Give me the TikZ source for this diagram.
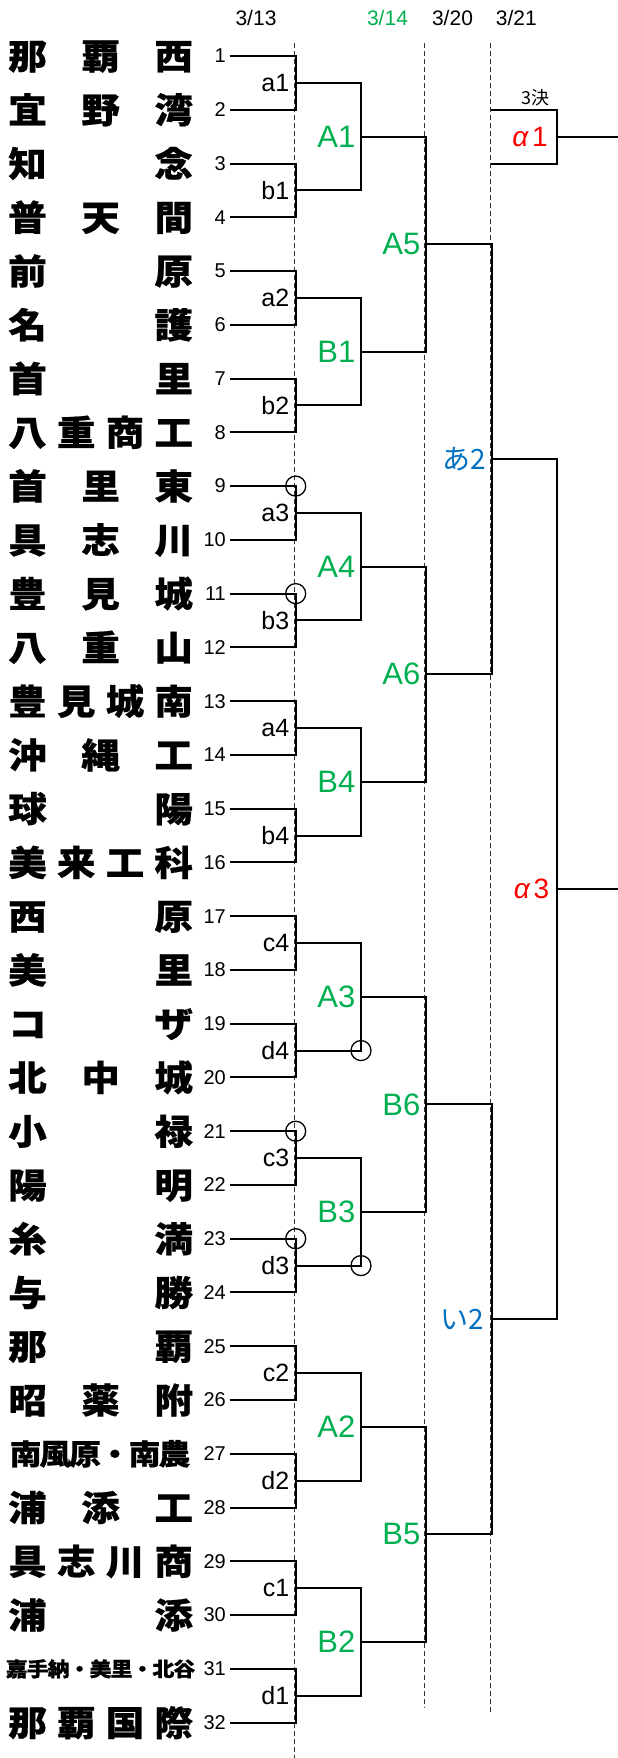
\documentclass[tikz,border=0pt]{standalone}
\usepackage{fontspec}
\setmainfont{Liberation Sans}
\newfontfamily\jpfont{Noto Sans CJK JP}[FakeStretch=1.1,BoldFeatures={FakeBold=0.6}]
\newfontfamily\jpplain{Noto Sans CJK JP}
\usetikzlibrary{calc}

\definecolor{roundgreen}{RGB}{0,176,80}
\definecolor{kanablue}{RGB}{0,112,192}
\definecolor{alphared}{RGB}{255,0,0}

% row of team i (in px, downwards)
\def\ty#1{56+(#1-1)*53.76}

% team name spread over the name column: row, size, first x, last x, chars
\newcommand\teamname[5]{%
  \foreach \c [count=\n] in {#5} {\xdef\teamlen{\n}}%
  \foreach \c [count=\j from 0] in {#5}
    \node[namechar,font=\jpfont\bfseries\fontsize{#2}{#2}\selectfont]
      (name#1-\j) at ({#3+\j*(#4-#3)/(\teamlen-1)},{\ty{#1}+0.38*#2}) {\c};%
}
\newcommand\alphatext[1]{{\itshape α}\kern4pt#1}

\begin{document}
\begin{tikzpicture}[x=1pt,y=-1pt,
  bracket/.style={line width=2pt},
  dayline/.style={line width=1pt,dash pattern=on 5pt off 3pt,black!80},
  teamno/.style={anchor=east,inner sep=0pt,font=\fontsize{20}{20}\selectfont},
  firstlab/.style={anchor=east,inner sep=0pt,font=\fontsize{25}{25}\selectfont},
  secondlab/.style={anchor=east,inner sep=0pt,text=roundgreen,font=\fontsize{31}{31}\selectfont},
  kanalab/.style={anchor=east,inner sep=0pt,text=kanablue,font=\jpplain\fontsize{28}{28}\selectfont},
  alphalab/.style={anchor=east,inner sep=0pt,text=alphared,font=\fontsize{28}{28}\selectfont},
  daylab/.style={inner sep=0pt,font=\fontsize{21}{21}\selectfont},
  namechar/.style={anchor=base,inner sep=0pt},
  hitmark/.style={circle,draw,line width=1.3pt,minimum size=20pt,inner sep=0pt}]

  \useasboundingbox (0,0) rectangle (618,1758);

  %%%%% days %%%%%
  \node[daylab] (d313) at (256,18.3) {3/13};
  \node[daylab,text=roundgreen] (d314) at (387.5,18.3) {3/14};
  \node[daylab] (d320) at (452.5,18.3) {3/20};
  \node[daylab] (d321) at (516.4,18.3) {3/21};

  \draw[dayline] (294,42.7) -- (294,1758);
  \draw[dayline] (424,42.7) -- (424,1708);
  \draw[dayline] (490,42.7) -- (490,1712);

  %%%%% teams %%%%%
  \teamname{1}{35}{27.5}{173.7}{那,覇,西}
  \teamname{2}{35}{27.5}{173.7}{宜,野,湾}
  \teamname{3}{35}{27.5}{173.7}{知,念}
  \teamname{4}{35}{27.5}{173.7}{普,天,間}
  \teamname{5}{35}{27.5}{173.7}{前,原}
  \teamname{6}{35}{27.5}{173.7}{名,護}
  \teamname{7}{35}{27.5}{173.7}{首,里}
  \teamname{8}{35}{27.5}{173.7}{八,重,商,工}
  \teamname{9}{35}{27.5}{173.7}{首,里,東}
  \teamname{10}{35}{27.5}{173.7}{具,志,川}
  \teamname{11}{35}{27.5}{173.7}{豊,見,城}
  \teamname{12}{35}{27.5}{173.7}{八,重,山}
  \teamname{13}{35}{27.5}{173.7}{豊,見,城,南}
  \teamname{14}{35}{27.5}{173.7}{沖,縄,工}
  \teamname{15}{35}{27.5}{173.7}{球,陽}
  \teamname{16}{35}{27.5}{173.7}{美,来,工,科}
  \teamname{17}{35}{27.5}{173.7}{西,原}
  \teamname{18}{35}{27.5}{173.7}{美,里}
  \teamname{19}{35}{27.5}{173.7}{コ,ザ}
  \teamname{20}{35}{27.5}{173.7}{北,中,城}
  \teamname{21}{35}{27.5}{173.7}{小,禄}
  \teamname{22}{35}{27.5}{173.7}{陽,明}
  \teamname{23}{35}{27.5}{173.7}{糸,満}
  \teamname{24}{35}{27.5}{173.7}{与,勝}
  \teamname{25}{35}{27.5}{173.7}{那,覇}
  \teamname{26}{35}{27.5}{173.7}{昭,薬,附}
  \teamname{27}{29}{25.6}{174.4}{南,風,原,・,南,農}
  \teamname{28}{35}{27.5}{173.7}{浦,添,工}
  \teamname{29}{35}{27.5}{173.7}{具,志,川,商}
  \teamname{30}{35}{27.5}{173.7}{浦,添}
  \teamname{31}{20}{16.8}{184.3}{嘉,手,納,・,美,里,・,北,谷}
  \teamname{32}{35}{27.5}{173.7}{那,覇,国,際}

  \foreach \i in {1,...,32}{
    \coordinate (s\i) at (230,{\ty{\i}});
    \coordinate (t\i) at (295.7,{\ty{\i}});
    \node[teamno] (no\i) at (226,{\ty{\i}}) {\i};
  }
  \foreach \k in {1,...,16}{
    \pgfmathtruncatemacro\up{2*\k-1}
    \pgfmathtruncatemacro\dn{2*\k}
    \draw[bracket] (s\up) -- (t\up) |- (s\dn);
  }

  %%%%% 3/13 %%%%%
  \foreach \lab [count=\k] in {a1,b1,a2,b2,a3,b3,a4,b4,c4,d4,c3,d3,c2,d2,c1,d1}{
    \coordinate (p\lab) at (295.7,{\ty{2*\k-0.5}});
    \node[firstlab] (l\lab) at (289.5,{\ty{2*\k-0.5}}) {\lab};
  }

  %%%%% 3/14 %%%%%
  \foreach \lab/\r in {A1/2.5,B1/6.5,A4/10.5,B4/14.5,A3/18.5,B3/22.5,A2/26.5,B2/30.5}{
    \coordinate (p\lab) at (361,{\ty{\r}});
    \node[secondlab] (l\lab) at (355.5,{\ty{\r}}) {\lab};
  }
  \draw[bracket] (pa1) -| (pA1) |- (pb1);
  \draw[bracket] (pa2) -| (pB1) |- (pb2);
  \draw[bracket] (pa3) -| (pA4) |- (pb3);
  \draw[bracket] (pa4) -| (pB4) |- (pb4);
  \draw[bracket] (pc4) -| (pA3) |- (pd4);
  \draw[bracket] (pc3) -| (pB3) |- (pd3);
  \draw[bracket] (pc2) -| (pA2) |- (pd2);
  \draw[bracket] (pc1) -| (pB2) |- (pd1);

  \foreach \lab/\r in {A5/4.5,A6/12.5,B6/20.5,B5/28.5}{
    \coordinate (p\lab) at (426,{\ty{\r}});
    \node[secondlab] (l\lab) at (420.5,{\ty{\r}}) {\lab};
  }
  \draw[bracket] (pA1) -| (pA5) |- (pB1);
  \draw[bracket] (pA4) -| (pA6) |- (pB4);
  \draw[bracket] (pA3) -| (pB6) |- (pB3);
  \draw[bracket] (pA2) -| (pB5) |- (pB2);

  %%%%% 3/20 %%%%%
  \coordinate (pkanaA) at (492,{\ty{8.5}});
  \coordinate (pkanaI) at (492,{\ty{24.5}});
  \node[kanalab] (lkanaA) at (486,{\ty{8.5}}) {あ2};
  \node[kanalab] (lkanaI) at (484.5,{\ty{24.5}}) {い2};
  \draw[bracket] (pA5) -| (pkanaA) |- (pA6);
  \draw[bracket] (pB6) -| (pkanaI) |- (pB5);

  %%%%% 3/21 %%%%%
  \coordinate (palpha3) at (556.7,{\ty{16.5}});
  \coordinate (ealpha3) at (618,{\ty{16.5}});
  \node[alphalab] (lalpha3) at (549.5,{\ty{16.5}}) {\alphatext{3}};
  \draw[bracket] (pkanaA) -| (palpha3) |- (pkanaI);
  \draw[bracket] (palpha3) -- (ealpha3);

  \coordinate (qtop) at (490.7,{\ty{2}});
  \coordinate (qbot) at (490.7,{\ty{3}});
  \coordinate (palpha1) at (556.7,{\ty{2.5}});
  \coordinate (ealpha1) at (618,{\ty{2.5}});
  \draw[bracket] (qtop) -| (palpha1) |- (qbot);
  \draw[bracket] (palpha1) -- (ealpha1);
  \node[alphalab] (lalpha1) at (548,{\ty{2.5}}) {\alphatext{1}};
  \node[inner sep=0pt,font=\jpplain\fontsize{18}{18}\selectfont] (third) at (535,98) {3決};

  %%%%% marks %%%%%
  \node[hitmark] (o9) at (t9) {};
  \node[hitmark] (o11) at (t11) {};
  \node[hitmark] (o21) at (t21) {};
  \node[hitmark] (o23) at (t23) {};
  \node[hitmark] (oA3) at (pA3 |- pd4) {};
  \node[hitmark] (oB3) at (pB3 |- pd3) {};

\end{tikzpicture}
\end{document}
